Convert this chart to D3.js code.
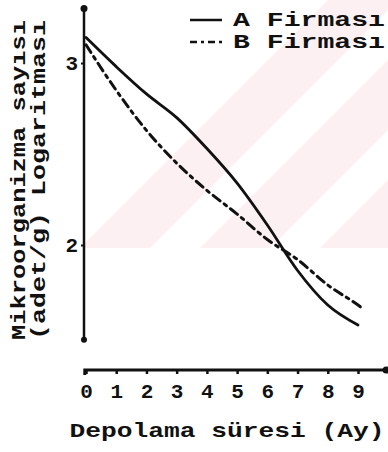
<!DOCTYPE html>
<html>
<head>
<meta charset="utf-8">
<script src="https://cdn.jsdelivr.net/npm/d3@7"></script>
<style>
  html, body { margin: 0; padding: 0; background: #fff; }
  svg { display: block; }
  text { font-family: "Liberation Mono", "DejaVu Sans Mono", monospace; font-weight: bold; fill: #111; }
</style>
</head>
<body>
<div id="chart"></div>
<script>
// storage time (months)
const months = [0, 1, 2, 3, 4, 5, 6, 7, 8, 9];
// log10 microorganism count, firm A (solid)
const firmA = [3.14, 2.98, 2.83, 2.70, 2.53, 2.34, 2.11, 1.86, 1.67, 1.56];
// firm B (dash-dot), last point runs a bit past month 9
const monthsB = [0, 1, 2, 3, 4, 5, 6, 7, 8, 9, 9.2];
const firmB = [3.10, 2.85, 2.63, 2.45, 2.30, 2.17, 2.03, 1.92, 1.78, 1.67, 1.645];
const xTicks = [0, 1, 2, 3, 4, 5, 6, 7, 8, 9];
const yTicks = [2, 3];
const legendLabels = ["A Firması", "B Firması"];

const width = 388, height = 452;

const svg = d3.select("#chart").append("svg")
  .attr("width", width)
  .attr("height", height);

// faint watermark stripes in the background
const clip = svg.append("clipPath").attr("id", "wmclip");
clip.append("rect").attr("x", 84).attr("y", 0).attr("width", 304).attr("height", 248);
const wm = svg.append("g").attr("fill", "#fdf0f2").attr("clip-path", "url(#wmclip)");
[80, 200, 320, 440].forEach(s => {
  wm.append("path").attr("d", `M${s},248 L${s + 70},248 L${s + 318},0 L${s + 248},0 Z`);
});

const x = d3.scaleLinear().domain([0, 9]).range([86, 358]);
const y = d3.scaleLinear().domain([2, 3]).range([245, 63]);

// axis lines with end dots
const axisY0 = 370;
svg.append("line")
  .attr("x1", 84).attr("x2", 84)
  .attr("y1", y(3.30)).attr("y2", y(1.48))
  .attr("stroke", "#111").attr("stroke-width", 2.5);
svg.append("circle").attr("cx", 84).attr("cy", y(3.30)).attr("r", 3.5).attr("fill", "#111");
svg.append("circle").attr("cx", 84).attr("cy", y(1.48)).attr("r", 3).attr("fill", "#111");

svg.append("path")
  .attr("d", `M${x(-0.04)},${axisY0 + 5} L${x(-0.04)},${axisY0} L${x(9.93)},${axisY0}`)
  .attr("fill", "none")
  .attr("stroke", "#111").attr("stroke-width", 3);
svg.append("circle").attr("cx", x(9.93)).attr("cy", axisY0).attr("r", 3.5).attr("fill", "#111");

// x axis ticks and labels
const xAxis = svg.append("g")
  .attr("transform", `translate(0,${axisY0})`)
  .call(d3.axisBottom(x).tickValues(xTicks).tickSize(4).tickPadding(9).tickSizeOuter(0));
xAxis.select(".domain").remove();
xAxis.selectAll("line").attr("stroke", "#111").attr("stroke-width", 2.5);
xAxis.selectAll("text").style("font-size", "21px").attr("fill", "#111");

// y axis ticks and labels
const yAxis = svg.append("g")
  .attr("transform", "translate(84,0)")
  .call(d3.axisLeft(y).tickValues(yTicks).tickFormat(d3.format("d"))
    .tickSize(3).tickPadding(3).tickSizeOuter(0));
yAxis.select(".domain").remove();
yAxis.selectAll("line").attr("stroke", "#111").attr("stroke-width", 2);
yAxis.selectAll("text").style("font-size", "21px").attr("fill", "#111");

// lines
const line = d3.line().curve(d3.curveMonotoneX);

svg.append("path")
  .attr("d", line(months.map((m, i) => [x(m), y(firmA[i])])))
  .attr("fill", "none")
  .attr("stroke", "#111")
  .attr("stroke-width", 2.8)
  .attr("stroke-linecap", "round");

svg.append("path")
  .attr("d", line(monthsB.map((m, i) => [x(m), y(firmB[i])])))
  .attr("fill", "none")
  .attr("stroke", "#111")
  .attr("stroke-width", 3)
  .attr("stroke-dasharray", "9,5,3,5")
  .attr("stroke-linecap", "round");

// legend
const legend = svg.append("g");
legendLabels.forEach((lab, i) => {
  const ly = 20 + i * 22;
  legend.append("line")
    .attr("x1", 190).attr("x2", 222)
    .attr("y1", ly).attr("y2", ly)
    .attr("stroke", "#111").attr("stroke-width", 2.5)
    .attr("stroke-dasharray", i === 0 ? null : "7,4,3,4");
  legend.append("text")
    .attr("x", 233).attr("y", ly + 6)
    .attr("textLength", 152)
    .attr("lengthAdjust", "spacingAndGlyphs")
    .style("font-size", "20px")
    .text(lab);
});

// axis titles
svg.append("text")
  .attr("x", 227).attr("y", 437)
  .attr("text-anchor", "middle")
  .attr("textLength", 315)
  .attr("lengthAdjust", "spacingAndGlyphs")
  .style("font-size", "21px")
  .text("Depolama süresi (Ay)");

const yTitle = ["Mikroorganizma sayısı", "(adet/g) Logaritması"];
yTitle.forEach((t, i) => {
  svg.append("text")
    .attr("transform", `translate(${25 + i * 20},180) rotate(-90)`)
    .attr("text-anchor", "middle")
    .attr("textLength", 320)
    .attr("lengthAdjust", "spacingAndGlyphs")
    .style("font-size", "20px")
    .text(t);
});
</script>
</body>
</html>
